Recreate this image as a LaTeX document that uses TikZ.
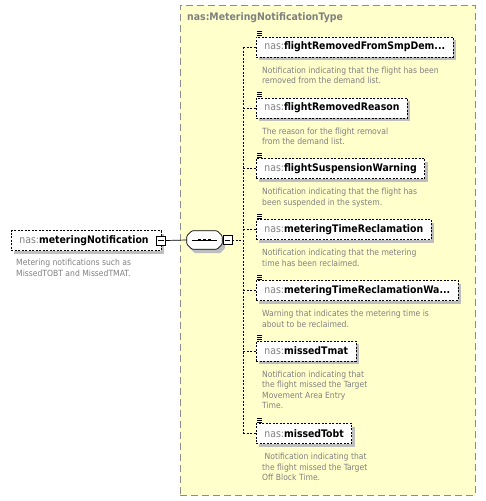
\documentclass[tikz,border=0pt]{standalone}
\usepackage{fontspec}
\setmainfont{DejaVu Sans Condensed}
\usetikzlibrary{positioning,shadows}
\usepackage{xcolor}

\definecolor{typefill}{RGB}{255,255,204}
\definecolor{typeline}{RGB}{140,140,140}
\definecolor{nsgray}{RGB}{128,128,128}
\definecolor{docgray}{RGB}{128,128,128}
\definecolor{shadegray}{RGB}{190,190,190}

\newcommand{\nsp}[1]{\textcolor{nsgray}{\mdseries #1}}
\newcommand{\seqoutline}{([xshift=5pt]seq.north west) -- ([xshift=-5pt]seq.north east) -- ([yshift=-5pt]seq.north east)
  -- ([yshift=5pt]seq.south east) -- ([xshift=-5pt]seq.south east) -- ([xshift=5pt]seq.south west)
  -- ([yshift=5pt]seq.south west) -- ([yshift=-5pt]seq.north west) -- cycle}

\tikzset{
  typebox/.style={draw=typeline, fill=typefill, line width=0.9pt, dash pattern=on 7pt off 4pt, inner sep=0pt},
  elembox/.style={draw, fill=white, dash pattern=on 2pt off 1.5pt, line width=0.7pt, minimum height=20pt, inner xsep=8pt,
    font=\bfseries\fontsize{10.4}{12}\selectfont,
    general shadow={fill=shadegray, shadow xshift=3pt, shadow yshift=-3pt}},
  doc/.style={font=\fontsize{8.5}{10.5}\selectfont, text=docgray, align=left, inner sep=0pt},
  minusbox/.style={draw, fill=white, minimum size=9pt, inner sep=0pt, line width=0.6pt},
  seqnode/.style={minimum width=35pt, minimum height=18pt, inner sep=0pt},
  conn/.style={dash pattern=on 2pt off 1.5pt, line width=0.7pt},
}

\begin{document}
\begin{tikzpicture}[x=1pt, y=-1pt]
\useasboundingbox (0,0) rectangle (485,501);

% complex type
\node[typebox, minimum width=295pt, minimum height=490pt, anchor=north west] (mnt) at (180,5) {};
\node[anchor=west, inner sep=0pt, text=nsgray, font=\bfseries\fontsize{10.4}{12}\selectfont] (title) at (187,18) {nas:MeteringNotificationType};

% root element
\node[elembox, anchor=west, minimum width=150pt, text width=134pt, align=left] (root) at (11,240.5) {\nsp{nas:}meteringNotification};
\node[minusbox] (rootx) at ([xshift=-1pt]root.east) {};
\draw[line width=0.6pt] ([xshift=2pt]rootx.west) -- ([xshift=-2pt]rootx.east);
\node[doc, below right=8pt and 5pt of root.south west] (rootdoc) {Metering notifications such as\\MissedTOBT and MissedTMAT.};

% sequence
\node[seqnode] (seq) at (204.5,240) {};
\fill[shadegray, rounded corners=1pt, transform canvas={shift={(3pt,-4pt)}}] \seqoutline;
\draw[fill=white, line width=0.7pt, rounded corners=1pt] \seqoutline;
\draw[line width=0.7pt] ([xshift=5pt]seq.west) -- ([xshift=-5pt]seq.east);
\foreach \dx in {-5,0,5}
  \fill ([xshift=\dx pt]seq.center) +(-1.4,-1.4) rectangle +(1.4,1.4);
\node[minusbox, anchor=west] (seqx) at ([xshift=0.5pt]seq.east) {};
\draw[line width=0.6pt] ([xshift=2pt]seqx.west) -- ([xshift=-2pt]seqx.east);
\coordinate (spine) at (243,240);

\draw[line width=0.7pt] (rootx.east) -- (seq.west);
\draw[conn] (seqx.east) -- (spine);

% children
\node[elembox, anchor=west] (c1) at (256,47) {\nsp{nas:}flightRemovedFromSmpDem...};
\node[doc, below right=9pt and 6pt of c1.south west] (d1) {Notification indicating that the flight has been\\removed from the demand list.};

\node[elembox, anchor=west] (c2) at (256,108) {\nsp{nas:}flightRemovedReason};
\node[doc, below right=9pt and 6pt of c2.south west] (d2) {The reason for the flight removal\\from the demand list.};

\node[elembox, anchor=west] (c3) at (256,168.5) {\nsp{nas:}flightSuspensionWarning};
\node[doc, below right=9pt and 6pt of c3.south west] (d3) {Notification indicating that the flight has\\been suspended in the system.};

\node[elembox, anchor=west] (c4) at (256,229.5) {\nsp{nas:}meteringTimeReclamation};
\node[doc, below right=9pt and 6pt of c4.south west] (d4) {Notification indicating that the metering\\time has been reclaimed.};

\node[elembox, anchor=west] (c5) at (256,290.5) {\nsp{nas:}meteringTimeReclamationWa...};
\node[doc, below right=9pt and 6pt of c5.south west] (d5) {Warning that indicates the metering time is\\about to be reclaimed.};

\node[elembox, anchor=west] (c6) at (256,351) {\nsp{nas:}missedTmat};
\node[doc, below right=9pt and 6pt of c6.south west] (d6) {Notification indicating that\\the flight missed the Target\\Movement Area Entry\\Time.};

\node[elembox, anchor=west] (c7) at (256,433.5) {\nsp{nas:}missedTobt};
\node[doc, below right=9pt and 6pt of c7.south west] (d7) {\ Notification indicating that\\the flight missed the Target\\Off Block Time.};

% connectors
\draw[conn] (c1.west -| spine) -- (c7.west -| spine);
\foreach \c in {c1,c2,c3,c4,c5,c6,c7} {
  \draw[conn] (\c.west -| spine) -- (\c.west);
  \foreach \dy in {0,2,4}
    \draw[line width=0.6pt] ([xshift=1pt, yshift=5pt-\dy pt]\c.north west) -- +(5,0);
}
\end{tikzpicture}
\end{document}
